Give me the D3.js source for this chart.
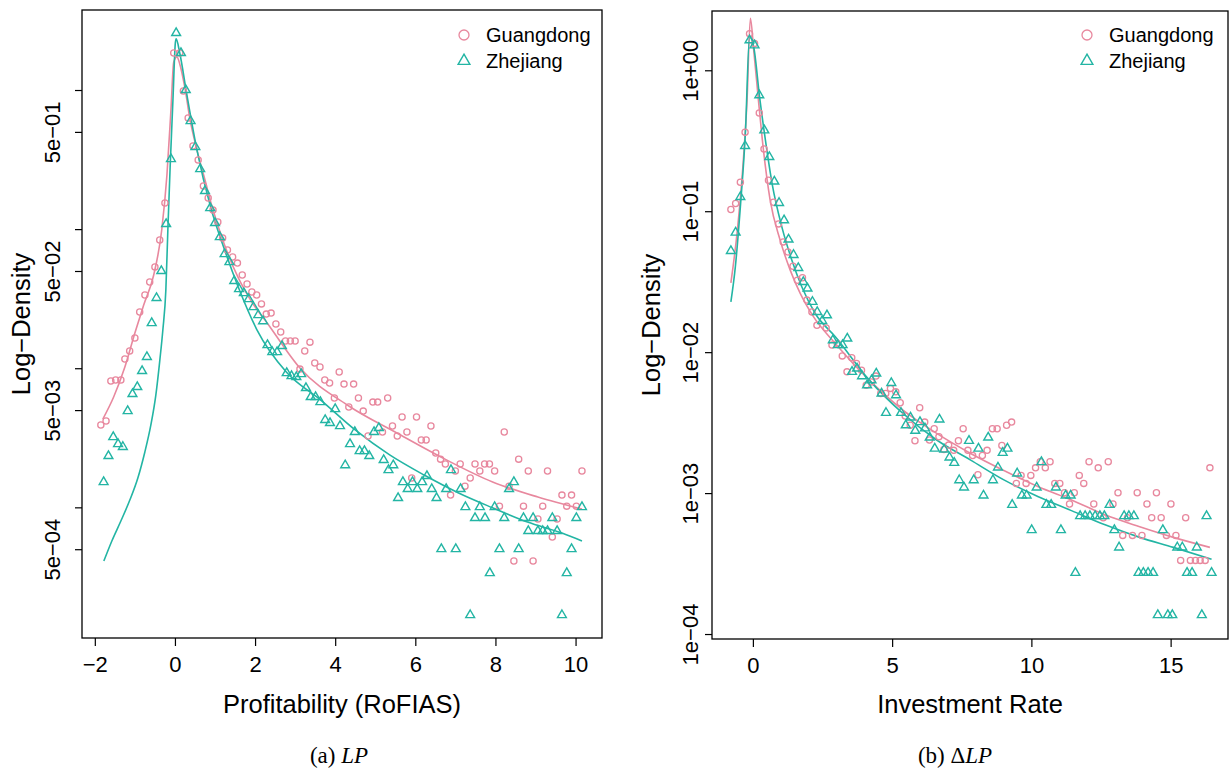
<!DOCTYPE html>
<html><head><meta charset="utf-8">
<script src="https://cdn.jsdelivr.net/npm/d3@7"></script>
<style>body{margin:0;background:#fff}</style>
</head><body><svg id="c" width="1232" height="776"></svg>
<script>
// ---------------- DATA ----------------
const seriesNames = ["Guangdong", "Zhejiang"];
// Panel (a): Profitability (RoFIAS)  [x, density]
const lpGuangdong = [[-1.85,3.91e-3],[-1.72,4.17e-3],[-1.60,8.09e-3],[-1.48,8.22e-3],[-1.35,8.22e-3],[-1.25,1.164e-2],[-1.13,1.33e-2],[-1.00,1.648e-2],[-0.88,2.535e-2],[-0.75,3.36e-2],[-0.63,4.17e-2],[-0.50,5.35e-2],[-0.38,8.35e-2],[-0.25,0.154],[-0.03,1.845],[0.12,1.845],[0.21,0.984],[0.33,0.629],[0.45,0.396],[0.58,0.314],[0.71,0.204],[0.83,0.1675],[0.95,0.137],[1.07,0.1125],[1.19,0.0863],[1.31,0.0708],[1.44,0.063],[1.56,0.057],[1.68,0.0468],[1.80,0.0403],[1.92,0.0353],[2.04,0.0336],[2.16,0.029],[2.28,0.0245],[2.40,0.0249],[2.52,0.0208],[2.64,0.0182],[2.76,0.0157],[2.88,0.0157],[3.00,0.0157],[3.12,9.86e-3],[3.24,0.0133],[3.37,0.0154],[3.49,0.0109],[3.62,0.0102],[3.74,8.22e-3],[3.86,7.83e-3],[3.98,6.11e-3],[4.10,9.39e-3],[4.22,7.69e-3],[4.34,5.26e-3],[4.46,7.69e-3],[4.58,6.11e-3],[4.70,4.92e-3],[4.82,3.26e-3],[4.94,5.71e-3],[5.06,5.71e-3],[5.18,3.48e-3],[5.31,6.11e-3],[5.43,3.84e-3],[5.55,3.26e-3],[5.67,4.46e-3],[5.79,3.48e-3],[5.91,1.625e-3],[6.03,4.46e-3],[6.15,3.05e-3],[6.27,3.05e-3],[6.39,3.84e-3],[6.51,2.46e-3],[6.63,2.22e-3],[6.75,2.05e-3],[6.88,1.225e-3],[7.00,1.825e-3],[7.12,2.05e-3],[7.24,1.42e-3],[7.37,1.625e-3],[7.49,2.05e-3],[7.61,1.825e-3],[7.73,2.05e-3],[7.85,2.05e-3],[7.98,1.825e-3],[8.10,1.02e-3],[8.22,3.48e-3],[8.34,1.42e-3],[8.46,4.11e-4],[8.58,2.22e-3],[8.70,1.02e-3],[8.82,1.825e-3],[8.94,4.11e-4],[9.06,8.24e-4],[9.18,1.02e-3],[9.30,1.825e-3],[9.42,6.12e-4],[9.54,8.24e-4],[9.66,1.225e-3],[9.78,1.02e-3],[9.90,1.225e-3],[10.02,1.02e-3],[10.16,1.825e-3]];
const lpZhejiang = [[-1.78,1.52e-3],[-1.66,2.34e-3],[-1.54,3.20e-3],[-1.42,2.85e-3],[-1.30,2.72e-3],[-1.18,4.92e-3],[-1.06,6.53e-3],[-0.94,7.33e-3],[-0.82,9.55e-3],[-0.70,0.01205],[-0.58,0.02113],[-0.46,0.0320],[-0.34,0.0500],[-0.22,0.1089],[-0.10,0.319],[0.03,2.57],[0.15,1.845],[0.27,1.0],[0.39,0.598],[0.51,0.389],[0.63,0.2704],[0.75,0.188],[0.88,0.1418],[1.00,0.1107],[1.12,0.0877],[1.24,0.0662],[1.36,0.0580],[1.48,0.0424],[1.60,0.0371],[1.72,0.0347],[1.84,0.0314],[1.96,0.0275],[2.08,0.0241],[2.20,0.0218],[2.31,0.01468],[2.43,0.01306],[2.55,0.01306],[2.67,0.01445],[2.79,9.23e-3],[2.91,8.79e-3],[3.03,8.65e-3],[3.15,9.08e-3],[3.27,7.21e-3],[3.39,6.21e-3],[3.51,6.21e-3],[3.63,5.71e-3],[3.75,4.25e-3],[3.87,4.04e-3],[4.00,5.09e-3],[4.12,3.84e-3],[4.25,2.01e-3],[4.37,2.85e-3],[4.49,3.48e-3],[4.61,2.54e-3],[4.73,2.54e-3],[4.85,2.34e-3],[4.97,3.48e-3],[5.09,3.72e-3],[5.21,2.19e-3],[5.33,1.854e-3],[5.45,2.01e-3],[5.57,1.167e-3],[5.69,1.52e-3],[5.81,1.355e-3],[5.93,1.52e-3],[6.05,1.355e-3],[6.17,1.52e-3],[6.29,1.68e-3],[6.41,1.355e-3],[6.53,1.167e-3],[6.65,5.01e-4],[6.77,1.355e-3],[6.89,1.854e-3],[7.01,5.01e-4],[7.13,1.355e-3],[7.25,1.005e-3],[7.37,1.68e-4],[7.49,8.38e-4],[7.61,1.005e-3],[7.74,8.38e-4],[7.86,3.37e-4],[7.98,1.005e-3],[8.10,5.01e-4],[8.22,8.38e-4],[8.34,1.355e-3],[8.46,1.52e-3],[8.58,5.01e-4],[8.70,8.38e-4],[8.82,6.76e-4],[8.94,8.38e-4],[9.06,6.76e-4],[9.18,6.76e-4],[9.30,6.76e-4],[9.42,8.38e-4],[9.54,6.76e-4],[9.66,1.68e-4],[9.78,3.37e-4],[9.90,5.01e-4],[10.02,8.38e-4],[10.16,1.005e-3]];
const lpGuangdongFit = [[-1.80,4.31e-3],[-1.53,6.21e-3],[-1.25,0.0102],[-1.00,0.0179],[-0.78,0.0285],[-0.53,0.0468],[-0.33,0.0986],[-0.20,0.245],[-0.10,0.718],[-0.03,1.59],[0.05,1.73],[0.12,1.54],[0.25,1.03],[0.37,0.629],[0.55,0.370],[0.75,0.2254],[0.90,0.154],[1.22,0.0794],[1.57,0.0453],[1.92,0.0299],[2.32,0.0208],[3.12,0.01003],[4.34,5.35e-3],[5.54,3.42e-3],[6.74,2.22e-3],[7.93,1.52e-3],[9.06,1.186e-3],[10.16,9.72e-4]];
const lpZhejiangFit = [[-1.775,4.11e-4],[-1.575,5.73e-4],[-1.35,7.97e-4],[-1.126,1.128e-3],[-0.926,1.625e-3],[-0.751,2.50e-3],[-0.601,3.91e-3],[-0.477,6.41e-3],[-0.377,0.01145],[-0.302,0.01882],[-0.227,0.0365],[-0.177,0.0986],[-0.12,0.279],[-0.05,0.847],[0.01,2.18],[0.03,2.33],[0.12,1.845],[0.29,0.952],[0.55,0.370],[0.89,0.144],[1.24,0.0708],[1.58,0.0384],[2.05,0.01882],[2.78,9.39e-3],[3.64,5.90e-3],[4.50,3.60e-3],[5.36,2.38e-3],[6.22,1.706e-3],[7.08,1.268e-3],[7.94,9.89e-4],[8.80,7.84e-4],[9.66,6.53e-4],[10.16,5.73e-4]];
const lpXTicks = [-2, 0, 2, 4, 6, 8, 10];
const lpYTicks = [1, 0.5, 0.1, 0.05, 0.01, 0.005, 0.001, 0.0005];
const lpYLabels = ["", "5e\u221201", "", "5e\u221202", "", "5e\u221203", "", "5e\u221204"];

// Panel (b): Investment Rate  [x, density]
const dlpGuangdong = [[-0.79,0.1028],[-0.62,0.1135],[-0.45,0.1607],[-0.28,0.363],[-0.12,1.82],[0.06,1.546],[0.23,0.498],[0.40,0.2767],[0.56,0.166],[0.74,0.1159],[0.92,0.0813],[1.09,0.0606],[1.26,0.0514],[1.44,0.0407],[1.60,0.0324],[1.78,0.0337],[1.94,0.0234],[2.12,0.0193],[2.30,0.0155],[2.63,0.01486],[2.84,0.01122],[3.03,0.01153],[3.21,9.41e-3],[3.38,7.25e-3],[3.55,9.12e-3],[3.72,8.32e-3],[3.90,7.45e-3],[4.07,5.83e-3],[4.25,6.15e-3],[4.42,6.76e-3],[4.59,5.09e-3],[4.77,5.09e-3],[4.94,5.53e-3],[5.13,5.23e-3],[5.29,4.37e-3],[5.47,3.52e-3],[5.65,3.03e-3],[5.82,2.35e-3],[5.99,4.03e-3],[6.17,3.19e-3],[6.34,2.38e-3],[6.51,2.86e-3],[6.68,2.51e-3],[6.86,2.04e-3],[7.03,2.19e-3],[7.21,2.01e-3],[7.38,2.35e-3],[7.55,2.86e-3],[7.72,2.01e-3],[7.89,1.85e-3],[8.08,1.349e-3],[8.24,1.85e-3],[8.41,2.01e-3],[8.60,2.86e-3],[8.77,2.86e-3],[8.94,2.18e-3],[9.11,3.03e-3],[9.29,3.19e-3],[9.46,1.172e-3],[9.63,1.335e-3],[9.81,1.172e-3],[9.98,1.335e-3],[10.15,1.51e-3],[10.32,1.667e-3],[10.50,1.51e-3],[10.67,1.667e-3],[10.84,1.172e-3],[11.02,1.172e-3],[11.19,1.005e-3],[11.37,8.36e-4],[11.54,1.005e-3],[11.72,1.335e-3],[11.88,1.172e-3],[12.07,1.667e-3],[12.24,8.36e-4],[12.40,1.51e-3],[12.58,6.68e-4],[12.76,1.667e-3],[12.93,8.36e-4],[13.11,1.005e-3],[13.28,5.01e-4],[13.45,6.68e-4],[13.63,5.01e-4],[13.80,1.005e-3],[13.97,5.01e-4],[14.15,8.36e-4],[14.32,6.68e-4],[14.49,1.005e-3],[14.66,6.68e-4],[14.85,5.01e-4],[15.01,8.36e-4],[15.19,5.01e-4],[15.36,3.33e-4],[15.54,6.68e-4],[15.71,3.33e-4],[15.89,3.33e-4],[16.06,3.33e-4],[16.24,3.33e-4],[16.41,1.51e-3]];
const dlpZhejiang = [[-0.79,0.0523],[-0.62,0.0706],[-0.45,0.1263],[-0.28,0.2904],[-0.12,1.633],[0.06,1.504],[0.23,0.665],[0.41,0.375],[0.59,0.2427],[0.77,0.1625],[0.94,0.1146],[1.12,0.0863],[1.28,0.063],[1.46,0.049],[1.63,0.0396],[1.81,0.0315],[1.96,0.0283],[2.14,0.02275],[2.31,0.0193],[2.49,0.01667],[2.66,0.01828],[2.87,0.01216],[3.05,0.01122],[3.22,0.01122],[3.39,0.0125],[3.56,7.25e-3],[3.74,7.66e-3],[3.92,6.76e-3],[4.10,5.83e-3],[4.26,6.33e-3],[4.43,7.06e-3],[4.62,5.09e-3],[4.78,3.71e-3],[4.97,6.05e-3],[5.14,4.95e-3],[5.32,3.71e-3],[5.49,3.03e-3],[5.66,3.44e-3],[5.83,2.77e-3],[6.00,3.19e-3],[6.18,2.88e-3],[6.35,2.48e-3],[6.53,2.07e-3],[6.70,3.33e-3],[6.87,2.04e-3],[7.06,1.79e-3],[7.23,1.64e-3],[7.41,1.236e-3],[7.58,1.097e-3],[7.76,2.35e-3],[7.93,1.236e-3],[8.10,2.07e-3],[8.28,9.63e-4],[8.45,2.48e-3],[8.62,1.236e-3],[8.80,1.52e-3],[8.97,1.93e-3],[9.14,2.07e-3],[9.31,8.26e-4],[9.49,1.38e-3],[9.66,9.63e-4],[9.83,9.63e-4],[10.01,5.47e-4],[10.19,1.097e-3],[10.36,1.66e-3],[10.54,8.26e-4],[10.71,8.26e-4],[10.88,1.097e-3],[11.06,5.47e-4],[11.23,9.63e-4],[11.41,9.63e-4],[11.58,2.72e-4],[11.75,6.87e-4],[11.93,6.87e-4],[12.10,6.87e-4],[12.29,6.87e-4],[12.46,6.87e-4],[12.62,6.87e-4],[12.81,8.26e-4],[12.98,5.47e-4],[13.15,4.12e-4],[13.33,6.87e-4],[13.50,6.87e-4],[13.68,6.87e-4],[13.85,2.72e-4],[14.02,2.72e-4],[14.19,2.72e-4],[14.37,2.72e-4],[14.54,1.364e-4],[14.72,5.47e-4],[14.90,1.364e-4],[15.06,1.364e-4],[15.24,4.12e-4],[15.42,4.12e-4],[15.59,2.72e-4],[15.77,2.72e-4],[15.94,4.12e-4],[16.12,1.364e-4],[16.29,6.87e-4],[16.47,2.72e-4]];
const dlpGuangdongFit = [[-0.79,0.031],[-0.57,0.0695],[-0.36,0.206],[-0.21,0.612],[-0.09,2.34],[0.03,1.387],[0.20,0.612],[0.38,0.271],[0.62,0.1197],[0.98,0.0622],[1.34,0.0382],[1.70,0.0261],[2.18,0.01779],[2.96,0.01153],[4.18,6.33e-3],[5.39,3.88e-3],[6.60,2.65e-3],[7.82,1.91e-3],[9.03,1.44e-3],[10.25,1.109e-3],[11.46,8.91e-4],[12.67,6.98e-4],[13.89,5.77e-4],[15.10,4.85e-4],[16.41,4.12e-4]];
const dlpZhejiangFit = [[-0.79,0.02275],[-0.63,0.0403],[-0.45,0.1072],[-0.27,0.356],[-0.12,1.722],[0.03,1.463],[0.24,0.647],[0.45,0.319],[0.69,0.157],[1.04,0.0774],[1.40,0.0449],[1.76,0.0290],[2.24,0.0188],[2.96,0.01284],[4.18,6.33e-3],[5.39,3.67e-3],[6.60,2.38e-3],[7.82,1.714e-3],[9.03,1.236e-3],[10.25,9.42e-4],[11.46,7.48e-4],[12.67,5.93e-4],[13.89,4.85e-4],[15.10,4.12e-4],[16.47,3.39e-4]];
const dlpXTicks = [0, 5, 10, 15];
const dlpYTicks = [1, 0.1, 0.01, 0.001, 0.0001];
const dlpYLabels = ["1e+00", "1e\u221201", "1e\u221202", "1e\u221203", "1e\u221204"];

// ---------------- STYLE / LAYOUT ----------------
const FONT = "'Liberation Sans', Arial, Helvetica, sans-serif";
const SERIF = "'Liberation Serif', 'DejaVu Serif', serif";
const PINK = "#E8889E", TEAL = "#23B5A4";
const svg = d3.select("#c");

function drawPanel(cfg) {
  const g = svg.append("g");
  const x = d3.scaleLinear().domain(cfg.xlim).range([cfg.left, cfg.right]);
  const y = d3.scaleLog().domain(cfg.ylim).range([cfg.bottom, cfg.top]);
  const line = d3.line().x(d => x(d[0])).y(d => y(d[1])).curve(d3.curveMonotoneX);

  const series = [
    {pts: cfg.gd, fit: cfg.gdFit, color: PINK, shape: "circle"},
    {pts: cfg.zj, fit: cfg.zjFit, color: TEAL, shape: "triangle"}
  ];
  series.forEach(s => {
    g.append("path").datum(s.fit).attr("d", line).attr("fill", "none")
      .attr("stroke", s.color).attr("stroke-width", 1.6);
  });
  const tri = d3.symbol().type(d3.symbolTriangle).size(34);
  series.forEach(s => {
    if (s.shape === "circle") {
      g.selectAll(null).data(s.pts).join("circle")
        .attr("cx", d => x(d[0])).attr("cy", d => y(d[1])).attr("r", 3.1)
        .attr("fill", "none").attr("stroke", s.color).attr("stroke-width", 1.3);
    } else {
      g.selectAll(null).data(s.pts).join("path").attr("d", tri)
        .attr("transform", d => `translate(${x(d[0])},${y(d[1])})`)
        .attr("fill", "none").attr("stroke", s.color).attr("stroke-width", 1.4);
    }
  });

  g.append("rect").attr("x", cfg.left).attr("y", cfg.top)
    .attr("width", cfg.right - cfg.left).attr("height", cfg.bottom - cfg.top)
    .attr("fill", "none").attr("stroke", "#000").attr("stroke-width", 1.3);

  const xa = g.append("g").attr("transform", `translate(0,${cfg.bottom})`)
    .call(d3.axisBottom(x).tickValues(cfg.xTicks).tickSize(8).tickPadding(10)
      .tickFormat(d => d < 0 ? "\u2212" + Math.abs(d) : String(d)));
  xa.select(".domain").remove();
  xa.attr("font-size", 22).attr("font-family", FONT);
  xa.selectAll("line").attr("stroke-width", 1.2);
  xa.selectAll("text").attr("fill", "#000");

  const ya = g.append("g").attr("transform", `translate(${cfg.left},0)`)
    .call(d3.axisLeft(y).tickValues(cfg.yTicks).tickSize(7).tickFormat((d, i) => cfg.yLabels[i]));
  ya.select(".domain").remove();
  ya.attr("font-size", 22).attr("font-family", FONT);
  ya.selectAll("line").attr("stroke-width", 1.2);
  ya.selectAll("text").attr("transform", "rotate(-90)").attr("x", 0).attr("y", -cfg.yLabOff)
    .attr("dy", 0).attr("text-anchor", "middle").attr("fill", "#000");

  g.append("text").attr("x", (cfg.left + cfg.right) / 2).attr("y", 713)
    .attr("text-anchor", "middle").attr("font-family", FONT).attr("font-size", 25.5).text(cfg.xTitle);
  g.append("text").attr("transform", `translate(${cfg.left - 52},${(cfg.top + cfg.bottom) / 2}) rotate(-90)`)
    .attr("text-anchor", "middle").attr("font-family", FONT).attr("font-size", 25.5).text("Log\u2212Density");

  // legend
  const lg = g.append("g").attr("font-family", FONT).attr("font-size", 20);
  lg.append("circle").attr("cx", cfg.legX).attr("cy", 35).attr("r", 5)
    .attr("fill", "none").attr("stroke", PINK).attr("stroke-width", 1.3);
  lg.append("path").attr("d", d3.symbol().type(d3.symbolTriangle).size(60))
    .attr("transform", `translate(${cfg.legX},61)`).attr("fill", "none").attr("stroke", TEAL).attr("stroke-width", 1.4);
  lg.append("text").attr("x", cfg.legX + 22).attr("y", 42).text(seriesNames[0]);
  lg.append("text").attr("x", cfg.legX + 22).attr("y", 68).text(seriesNames[1]);

  // caption
  const cap = g.append("text").attr("x", cfg.capX).attr("y", 763).attr("text-anchor", "middle")
    .attr("font-family", SERIF).attr("font-size", 23);
  cap.append("tspan").text(cfg.capPrefix);
  cap.append("tspan").attr("font-style", "italic").text("LP");
}

drawPanel({
  left: 82, right: 602, top: 10, bottom: 638,
  xlim: [-2.32, 10.66], ylim: [1.15e-4, 3.76],
  gd: lpGuangdong, zj: lpZhejiang, gdFit: lpGuangdongFit, zjFit: lpZhejiangFit,
  xTicks: lpXTicks, yTicks: lpYTicks, yLabels: lpYLabels, yLabOff: 22,
  xTitle: "Profitability (RoFIAS)", legX: 464, capX: 339, capPrefix: "(a) "
});
drawPanel({
  left: 712, right: 1228, top: 11, bottom: 639,
  xlim: [-1.468, 17.06], ylim: [9.22e-5, 2.634],
  gd: dlpGuangdong, zj: dlpZhejiang, gdFit: dlpGuangdongFit, zjFit: dlpZhejiangFit,
  xTicks: dlpXTicks, yTicks: dlpYTicks, yLabels: dlpYLabels, yLabOff: 14,
  xTitle: "Investment Rate", legX: 1087, capX: 955, capPrefix: "(b) \u0394"
});
</script>
</body></html>
